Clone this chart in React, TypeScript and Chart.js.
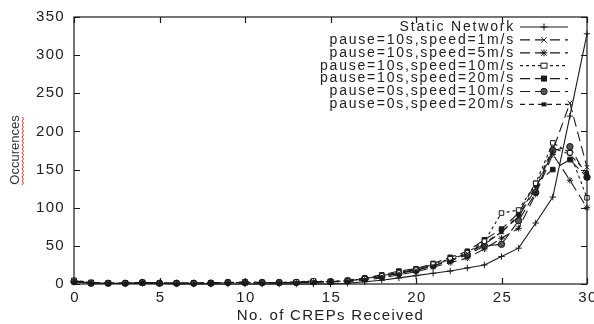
import React, { useEffect, useRef } from "react";
import { Chart, registerables } from "chart.js";

Chart.register(...registerables);

const xValues = [0,1,2,3,4,5,6,7,8,9,10,11,12,13,14,15,16,17,18,19,20,21,22,23,24,25,26,27,28,29,30];
const xTicks = [0, 5, 10, 15, 20, 25, 30];
const yTicks = [0, 50, 100, 150, 200, 250, 300, 350];

const seriesNames = [
  "Static Network",
  "pause=10s,speed=1m/s",
  "pause=10s,speed=5m/s",
  "pause=10s,speed=10m/s",
  "pause=10s,speed=20m/s",
  "pause=0s,speed=10m/s",
  "pause=0s,speed=20m/s",
];

const staticNet = [3,1,1,1,1,1,0,0,0,0,0,0,0,0,0,0,1,3,5,8,11,14,17,21,25,36,47,80,114,220,328];
const p10s1 = [4,2,1,1,2,1,1,1,1,2,1,2,1,2,3,3,4,6,10,14,18,24,30,40,52,68,88,125,175,237,153];
const p10s5 = [3,1,1,1,2,1,1,1,2,2,2,1,2,2,2,3,3,5,8,12,16,22,28,34,46,60,73,118,170,136,100];
const p10s10 = [5,2,1,1,2,1,1,1,1,2,2,2,2,3,4,3,4,7,11,15,19,26,33,41,56,93,97,132,185,172,113];
const p10s20 = [4,2,1,1,1,1,1,1,1,2,3,2,2,2,3,3,5,8,12,17,20,27,35,43,58,72,93,132,150,163,140];
const p0s10 = [3,1,1,1,2,1,1,1,1,2,2,2,2,2,3,3,4,7,10,14,18,24,31,38,50,52,83,120,175,180,140];
const p0s20 = [4,1,1,1,2,1,1,1,1,2,2,2,2,2,3,3,4,7,11,15,19,25,32,40,54,68,90,128,178,170,146];

const seriesValues = [staticNet, p10s1, p10s5, p10s10, p10s20, p0s10, p0s20];
const markers = ["cross", "crossRot", "star", "rectOpen", "rect", "circle", "dot"];
const dashes: number[][] = [[], [10, 5], [10, 5], [3, 3], [10, 5], [10, 5], [5, 4]];

const INK = "#1a1a1a";

function drawMarker(ctx: CanvasRenderingContext2D, style: string, x: number, y: number) {
  ctx.save();
  ctx.setLineDash([]);
  ctx.strokeStyle = INK;
  ctx.fillStyle = INK;
  ctx.lineWidth = 1;
  const r = 3.5;
  ctx.beginPath();
  if (style === "cross" || style === "star") {
    ctx.moveTo(x - r, y); ctx.lineTo(x + r, y);
    ctx.moveTo(x, y - r); ctx.lineTo(x, y + r);
  }
  if (style === "crossRot" || style === "star") {
    ctx.moveTo(x - r * 0.8, y - r * 0.8); ctx.lineTo(x + r * 0.8, y + r * 0.8);
    ctx.moveTo(x - r * 0.8, y + r * 0.8); ctx.lineTo(x + r * 0.8, y - r * 0.8);
  }
  ctx.stroke();
  if (style === "rectOpen") {
    ctx.fillStyle = "#fff";
    ctx.fillRect(x - 3, y - 2.5, 6, 5);
    ctx.strokeRect(x - 3, y - 2.5, 6, 5);
  } else if (style === "rect") {
    ctx.fillRect(x - 3, y - 3, 6, 6);
  } else if (style === "circle") {
    ctx.fillStyle = "#555";
    ctx.beginPath();
    ctx.arc(x, y, 3.2, 0, Math.PI * 2);
    ctx.fill();
    ctx.stroke();
  } else if (style === "dot") {
    ctx.fillRect(x - 2.5, y - 2, 5, 4);
  }
  ctx.restore();
}

const framePlugin = {
  id: "gnuplotFrame",
  afterDraw(chart: any) {
    const ctx: CanvasRenderingContext2D = chart.ctx;
    const ca = chart.chartArea;
    const xs = chart.scales.x;
    const ys = chart.scales.y;
    ctx.save();
    ctx.strokeStyle = INK;
    ctx.lineWidth = 1.2;
    ctx.setLineDash([]);
    ctx.strokeRect(ca.left, ca.top, ca.right - ca.left, ca.bottom - ca.top);
    ctx.beginPath();
    const tl = 6;
    yTicks.forEach((v) => {
      const py = Math.round(ys.getPixelForValue(v)) + 0.5;
      ctx.moveTo(ca.left, py); ctx.lineTo(ca.left + tl, py);
      ctx.moveTo(ca.right, py); ctx.lineTo(ca.right - tl, py);
    });
    xTicks.forEach((v) => {
      const px = Math.round(xs.getPixelForValue(v)) + 0.5;
      ctx.moveTo(px, ca.bottom); ctx.lineTo(px, ca.bottom - tl);
      ctx.moveTo(px, ca.top); ctx.lineTo(px, ca.top + tl);
    });
    ctx.stroke();

    // tick labels
    ctx.fillStyle = "#222";
    ctx.font = "15px 'Liberation Sans', Arial, sans-serif";
    (ctx as any).letterSpacing = "1.3px";
    ctx.textAlign = "right";
    ctx.textBaseline = "middle";
    yTicks.forEach((v) => {
      ctx.fillText(String(v), ca.left - 9, ys.getPixelForValue(v));
    });
    ctx.textAlign = "center";
    xTicks.forEach((v) => {
      ctx.fillText(String(v), xs.getPixelForValue(v) + 1, 298);
    });
    // x title
    ctx.fillText("No. of CREPs Received", (ca.left + ca.right) / 2, 316);

    // y title
    (ctx as any).letterSpacing = "0px";
    ctx.save();
    ctx.translate(15, 150);
    ctx.rotate(-Math.PI / 2);
    ctx.font = "13px 'Liberation Sans', Arial, sans-serif";
    ctx.fillStyle = "#333";
    ctx.fillText("Occurences", 0, 0);
    // spell-check squiggle
    ctx.strokeStyle = "#e03030";
    ctx.lineWidth = 1;
    ctx.beginPath();
    for (let i = 0; i <= 34; i++) {
      const xx = -35 + i * 2;
      const yy = 7 + (i % 2 === 0 ? 0 : 1.5);
      if (i === 0) ctx.moveTo(xx, yy); else ctx.lineTo(xx, yy);
    }
    ctx.stroke();
    ctx.restore();

    // legend
    ctx.font = "14px 'Liberation Sans', Arial, sans-serif";
    (ctx as any).letterSpacing = "1.8px";
    ctx.textAlign = "right";
    ctx.textBaseline = "middle";
    seriesNames.forEach((name, i) => {
      const y = 27 + i * 12.9;
      ctx.fillStyle = "#222";
      ctx.fillText(name, 515, y);
      ctx.strokeStyle = INK;
      ctx.lineWidth = 1.2;
      ctx.setLineDash(dashes[i]);
      ctx.beginPath();
      ctx.moveTo(520, y);
      ctx.lineTo(568, y);
      ctx.stroke();
      ctx.setLineDash([]);
      drawMarker(ctx, markers[i], 544, y);
    });
    ctx.restore();
  },
};

const pointStyleFor: Record<string, any> = {
  cross: "cross",
  crossRot: "crossRot",
  star: "star",
  rectOpen: "rect",
  rect: "rect",
  circle: "circle",
  dot: "rect",
};

export default function App() {
  const ref = useRef<HTMLCanvasElement | null>(null);
  useEffect(() => {
    if (!ref.current) return;
    const datasets = seriesValues.map((vals, i) => {
      const m = markers[i];
      return {
        label: seriesNames[i],
        data: vals.map((v, j) => ({ x: xValues[j], y: v })),
        borderColor: INK,
        borderWidth: 1.1,
        borderDash: dashes[i],
        backgroundColor: m === "rectOpen" ? "#fff" : m === "circle" ? "#555" : INK,
        pointStyle: pointStyleFor[m],
        pointRadius: m === "dot" ? 2.2 : 3.2,
        pointBorderWidth: 1,
        pointBorderColor: INK,
        pointBackgroundColor: m === "rectOpen" ? "#fff" : m === "circle" ? "#555" : INK,
        fill: false,
        tension: 0,
        clip: false as any,
      };
    });
    const chart = new Chart(ref.current, {
      type: "line",
      data: { datasets },
      options: {
        animation: false,
        responsive: false,
        devicePixelRatio: 1,
        layout: { padding: { top: 17, right: 7, left: 0, bottom: 0 } },
        plugins: { legend: { display: false }, tooltip: { enabled: false } },
        scales: {
          x: {
            type: "linear",
            min: 0,
            max: 30,
            ticks: { display: false, stepSize: 5 },
            grid: { display: false },
            border: { display: false },
            afterFit: (s: any) => { s.height = 40; },
          },
          y: {
            min: 0,
            max: 350,
            ticks: { display: false, stepSize: 50 },
            grid: { display: false },
            border: { display: false },
            afterFit: (s: any) => { s.width = 74; },
          },
        },
      },
      plugins: [framePlugin],
    });
    return () => chart.destroy();
  }, []);
  return (
    <div style={{ position: "absolute", left: 0, top: 0, width: 594, height: 324, background: "#fff" }}>
      <canvas ref={ref} width={594} height={324} style={{ display: "block" }} />
    </div>
  );
}
